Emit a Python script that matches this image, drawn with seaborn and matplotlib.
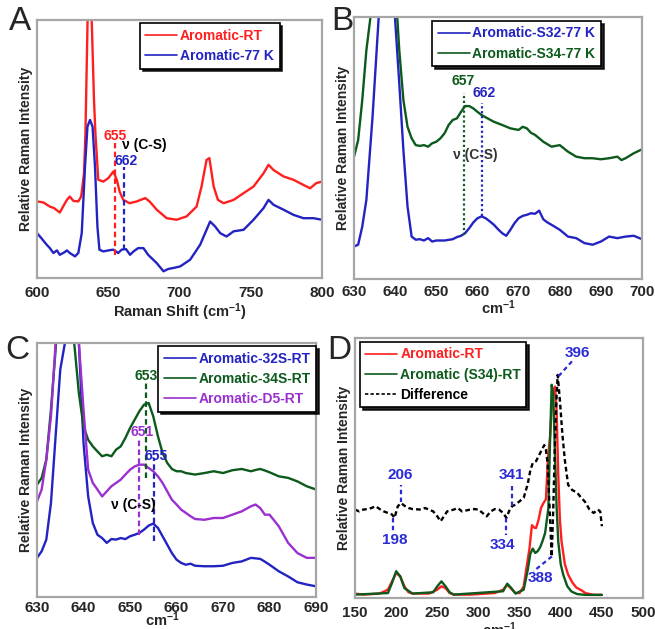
import matplotlib
matplotlib.use("Agg")
import matplotlib.pyplot as plt
import seaborn as sns

# ---------------- data (relative units 0-100 of panel height) ----------------
# Panel A
a_rt_x = [600, 604.5, 609, 612, 616, 619, 621, 623, 625.5, 629, 631, 633, 634, 635.5, 636.5, 637.5,
          638.4, 640, 641, 643, 646.6, 650, 653.6, 656, 658, 660.6, 665, 670, 676, 679, 684, 691, 698,
          705, 712, 715.5, 719, 721, 724, 727, 731, 738, 745, 752, 759, 762.5, 766, 773, 780, 787,
          791.7, 796, 800]
a_rt_y = [29.7, 29.3, 27.7, 27.1, 25.4, 28.4, 30.3, 31.6, 29.9, 29.7, 31.6, 40.6, 56.1, 100, 140, 140,
          100, 69, 56.1, 38.1, 37.4, 38.7, 41.3, 38.1, 33.5, 30.3, 29.0, 29.7, 31.0, 29.7, 26.5, 23.2, 22.6,
          23.9, 27.7, 35.5, 45.8, 46.5, 35.5, 30.3, 29.0, 30.3, 32.9, 35.5, 40.6, 43.9, 41.9, 39.4, 38.1, 36.1,
          34.8, 36.8, 37.4]
a_77_x = [600, 603, 606.8, 609, 611.5, 614, 616, 619, 621, 623, 626.7, 629, 631.4, 633.7, 635.4, 637.2,
          639, 640.7, 642.4, 643.8, 646.6, 650, 653.6, 657, 659.4, 662.5, 665.3, 667.7, 671, 674.7, 678,
          684, 688.8, 692, 695.8, 700.5, 707.5, 714.5, 718, 721.5, 725, 728.6, 733, 738, 745, 752, 759,
          762.5, 766, 773, 780, 787, 794, 800]
a_77_y = [17.4, 15.5, 12.9, 11.6, 9.7, 10.7, 9.0, 9.9, 10.7, 9.7, 8.4, 9.7, 17.4, 43.2, 58.7, 61.3,
          58.7, 43.2, 20.0, 11.0, 10.3, 10.7, 11.0, 9.7, 11.0, 11.2, 9.0, 10.3, 11.6, 11.6, 9.0,
          5.8, 2.6, 3.5, 3.9, 4.5, 7.1, 12.9, 17.4, 21.9, 20.0, 17.4, 16.1, 18.1, 18.7, 22.6, 27.1,
          30.3, 28.4, 26.5, 24.5, 23.2, 23.2, 22.6]

# Panel B
b_x32 = [630, 631, 632, 633, 634.5, 636, 637, 639, 640, 641, 642, 643, 644, 645, 646, 647, 648, 649, 650,
         652, 654, 655, 656, 657, 658, 659, 660, 661, 662, 663, 664, 665, 666, 667, 668, 669, 670, 671,
         672, 673, 674, 675, 676, 677, 678, 680, 682, 684, 686, 688, 690, 692, 694, 696, 698, 700]
b_y32 = [12.4, 13.1, 20.0, 30.2, 61.9, 100, 130, 130, 98.7, 74.6, 49.2, 27.7, 16.2, 15.0, 15.2, 14.7, 15.6,
         14.3, 14.7, 14.7, 15.2, 16.0, 16.5, 17.5, 19.4, 21.6, 23.2, 23.9, 23.2, 22.0, 20.7, 19.0, 17.5,
         16.5, 18.8, 21.3, 23.2, 24.1, 24.5, 25.1, 24.9, 26.1, 22.8, 21.6, 20.7, 18.8, 16.2, 15.6, 13.7,
         13.1, 14.3, 16.2, 15.6, 16.2, 16.5, 15.2]
b_x34 = [630, 631, 632, 633, 634, 635, 639, 640.5, 641, 642, 643, 644, 645, 646, 647, 648, 649, 650, 651,
         652, 653, 654, 655, 656, 657, 658, 659, 660, 661, 662, 664, 666, 668, 670, 671, 672, 673, 674,
         676, 678, 680, 682, 684, 686, 688, 690, 692, 694, 695, 696, 698, 700]
b_y34 = [46.7, 53.0, 68.3, 87.3, 100, 130, 130, 100, 87.3, 68.3, 58.1, 53.7, 51.1, 50.8, 51.1, 50.5, 51.8,
         52.4, 53.7, 55.6, 58.8, 60.7, 61.3, 63.8, 66.0, 66.0, 65.1, 63.8, 62.6, 61.7, 60.0, 58.8, 57.5,
         56.9, 58.1, 57.5, 55.8, 55.0, 52.4, 50.5, 51.1, 48.6, 46.7, 46.1, 46.1, 45.7, 46.1, 46.7, 45.4,
         46.1, 48.0, 49.5]

# Panel C
c_x = [630, 631, 632, 633, 634, 635, 636, 637, 638, 639, 640, 641, 642, 643, 644, 645, 646, 647, 648,
       649, 650, 651, 652, 653, 654, 655, 656, 657, 658, 659, 660, 661, 662, 663, 664, 666, 668, 670,
       672, 674, 676, 677, 678, 679, 680, 682, 684, 686, 688, 690]
c_y32 = [15.4, 18.0, 22.6, 37.0, 63.3, 89.5, 100, 130, 130, 100, 60.6, 39.6, 29.1, 24.5, 23.2, 21.3,
         22.8, 22.6, 23.2, 22.8, 23.9, 24.5, 25.2, 26.5, 28.1, 28.9, 27.2, 23.9, 20.6, 17.3, 14.7, 13.4,
         12.7, 13.1, 12.3, 12.1, 12.1, 12.3, 13.4, 14.0, 15.4, 15.2, 15.0, 13.9, 12.7, 10.1, 8.1, 5.8,
         4.9, 4.2]
c_y34 = [44.2, 46.9, 54.1, 73.8, 97.4, 130, 130, 130, 100, 80.3, 67.2, 61.9, 59.3, 57.3, 55.4, 56.0,
         55.4, 58.0, 59.3, 62.6, 66.5, 69.8, 73.1, 75.7, 76.4, 71.1, 63.3, 56.7, 52.8, 50.4, 49.5, 49.5,
         48.8, 48.5, 48.2, 48.8, 49.5, 48.8, 49.9, 50.4, 49.5, 50.0, 50.4, 49.8, 49.1, 47.5, 46.9, 45.5,
         43.6, 42.3]
c_yd5 = [37.7, 42.3, 54.1, 71.1, 100, 130, 130, 130, 130, 100, 73.8, 50.1, 44.9, 42.3, 39.6, 41.6,
         43.6, 44.9, 46.2, 48.2, 50.1, 51.4, 52.1, 52.1, 50.8, 49.5, 47.5, 44.9, 41.6, 38.3, 36.4, 34.4,
         33.1, 31.8, 30.7, 30.4, 31.1, 31.1, 32.4, 33.7, 35.7, 36.4, 35.0, 32.4, 32.4, 27.8, 21.3, 17.3,
         15.4, 15.4]

# Panel D
d_rt_x = [150, 160, 180, 190, 195, 200, 205, 210, 215, 220, 240, 250, 255, 260, 265, 270, 290, 310, 320,
          330, 335, 340, 345, 350, 355, 358, 362, 365, 368, 370, 373, 376, 379, 382, 384.5, 387, 389, 391,
          393, 395, 397, 399, 401, 405, 409, 414, 419, 425, 430, 440, 450]
d_rt_y = [1.7, 1.3, 1.7, 3.2, 6.4, 9.6, 8.3, 4.5, 2.2, 1.7, 1.7, 3.2, 4.5, 3.8, 1.9, 1.3, 1.3, 1.7, 1.9,
          3.2, 5.1, 3.5, 1.9, 1.9, 4.5, 10.9, 19.0, 28.0, 27.0, 26.9, 30.0, 34.6, 36.5, 38.0, 53.8, 62.0,
          73.0, 79.0, 81.3, 72.0, 47.3, 30.0, 21.7, 13.0, 9.0, 6.0, 4.0, 3.0, 1.9, 1.2, 1.2]
d_34_x = [150, 190, 195, 200, 205, 210, 220, 245, 250, 255, 260, 265, 270, 330, 335, 340, 345, 355, 360,
          363, 366, 369, 372, 375, 378, 381, 385, 387, 389, 391, 393, 395, 397, 400, 403, 408, 413, 420,
          430, 450]
d_34_y = [1.3, 1.9, 5.8, 10.3, 8.3, 3.8, 1.7, 2.2, 4.5, 6.4, 4.5, 2.2, 1.3, 2.6, 5.5, 3.8, 1.7, 3.2, 10.9,
          17.0, 19.0, 17.3, 18.0, 19.5, 22.0, 25.0, 34.5, 60.0, 82.0, 78.0, 55.0, 35.0, 21.7, 13.0, 9.0,
          4.5, 2.5, 1.5, 1.2, 1.2]
d_diff_x = [150, 155, 160, 165, 170, 175, 180, 185, 190, 195, 198, 202, 206, 210, 215, 220, 230, 235, 240,
            245, 250, 254, 258, 262, 270, 275, 280, 290, 295, 300, 305, 310, 315, 320, 325, 330, 334, 338,
            341, 345, 350, 355, 360, 363, 366, 370, 373, 377, 380, 382, 384, 386, 389, 391, 393, 395,
            396.3, 399, 402, 405, 409, 414, 420, 425, 429.5, 435, 440, 445, 448, 450]
d_diff_y = [34.0, 33.3, 34.0, 34.2, 34.6, 35.3, 34.2, 33.3, 32.7, 32.1, 30.8, 35.3, 36.5, 35.5, 34.6, 34.2,
            34.0, 34.6, 34.0, 33.3, 31.4, 29.5, 31.4, 33.3, 34.0, 34.6, 33.3, 34.0, 34.2, 34.0, 32.7, 31.4,
            33.3, 34.2, 34.0, 32.7, 30.8, 34.0, 35.3, 35.9, 37.2, 38.5, 44.0, 49.0, 51.9, 52.6, 54.5, 57.0,
            58.8, 57.0, 52.0, 38.0, 15.9, 35.0, 60.0, 78.0, 85.8, 76.0, 63.0, 53.0, 43.5, 41.5, 40.5, 38.5,
            37.0, 34.0, 32.7, 34.0, 33.3, 27.6]

RED = "#ff1f1f"
BLUE = "#2323c2"
GREEN = "#0c5a1c"
PURPLE = "#9b30d0"
NUMBLUE = "#2b2bd6"

# ---------------- style ----------------
sns.set_theme(style="white")
plt.rcParams["font.family"] = ["Liberation Sans", "DejaVu Sans"]
plt.rcParams["font.weight"] = "bold"
plt.rcParams["mathtext.fontset"] = "custom"
plt.rcParams["mathtext.rm"] = "Liberation Sans:bold"
plt.rcParams["mathtext.bf"] = "Liberation Sans:bold"
plt.rcParams["mathtext.default"] = "rm"

fig = plt.figure(figsize=(6.55, 6.29), dpi=100)
axA = fig.add_axes([0.0565, 0.558, 0.435, 0.410])
axB = fig.add_axes([0.5405, 0.5564, 0.4397, 0.4166])
axC = fig.add_axes([0.0565, 0.0509, 0.4260, 0.4038])
axD = fig.add_axes([0.5420, 0.0493, 0.4397, 0.4134])


def style_axes(ax, xlim, ticks, xlabel, tickpad, labelpad):
    ax.set_xlim(*xlim)
    ax.set_ylim(0, 100)
    ax.set_xticks(ticks)
    ax.set_yticks([])
    ax.tick_params(axis="x", length=0, labelsize=11, pad=tickpad)
    for lab in ax.get_xticklabels():
        lab.set_fontweight("bold")
    for sp in ax.spines.values():
        sp.set_color("#a6a6a6")
        sp.set_linewidth(1.6)
    ax.set_xlabel(xlabel, fontsize=10.5, fontweight="bold", labelpad=labelpad)
    ax.set_ylabel("Relative Raman Intensity", fontsize=10, fontweight="bold", labelpad=3)


def add_legend(ax, loc, anchor):
    leg = ax.legend(loc=loc, bbox_to_anchor=anchor, borderaxespad=0, fontsize=10,
                    prop={"weight": "bold", "size": 10}, labelcolor="linecolor",
                    handlelength=2.3, handletextpad=0.2, borderpad=0.4, labelspacing=0.45,
                    fancybox=False, frameon=True, shadow={"color": "black", "alpha": 0.85})
    leg.get_frame().set_edgecolor("black")
    leg.get_frame().set_linewidth(1.2)
    for ln in leg.get_lines():
        ln.set_linewidth(1.2)
    return leg


LW = 1.7

# ---------------- A ----------------
sns.lineplot(x=a_rt_x, y=a_rt_y, color=RED, lw=LW, label="Aromatic-RT", ax=axA, sort=False)
sns.lineplot(x=a_77_x, y=a_77_y, color=BLUE, lw=LW, label="Aromatic-77 K", ax=axA, sort=False)
style_axes(axA, (600, 800), range(600, 801, 50), r"Raman Shift (cm$^{-1}$)", 5.5, 1)
add_legend(axA, "upper left", (0.361, 0.988))
axA.plot([655, 655], [9, 52.3], ls=(0, (2.5, 1.5)), color=RED, lw=1.6)
axA.plot([661.2, 661.2], [11, 43.2], ls=(0, (2.5, 1.5)), color=BLUE, lw=1.6)
axA.text(655, 55.1, "655", color=RED, fontsize=10, fontweight="bold", ha="center", va="center")
axA.text(662.5, 45.5, "662", color=BLUE, fontsize=10, fontweight="bold", ha="center", va="center")
axA.text(659.5, 51.4, "ν (C-S)", color="black", fontsize=10, fontweight="bold", ha="left", va="center")

# ---------------- B ----------------
sns.lineplot(x=b_x32, y=b_y32, color=BLUE, lw=LW, label="Aromatic-S32-77 K", ax=axB, sort=False)
sns.lineplot(x=b_x34, y=b_y34, color=GREEN, lw=LW, label="Aromatic-S34-77 K", ax=axB, sort=False)
style_axes(axB, (630, 700), range(630, 701, 10), r"cm$^{-1}$", 4, 0)
add_legend(axB, "upper left", (0.271, 0.985))
axB.plot([656.8, 656.8], [16.9, 70.8], ls=(0, (1, 1.2)), color=GREEN, lw=1.6)
axB.plot([661.2, 661.2], [24, 67], ls=(0, (1, 1.2)), color=BLUE, lw=1.6)
axB.text(656.6, 75.6, "657", color=GREEN, fontsize=10, fontweight="bold", ha="center", va="center")
axB.text(661.6, 70.8, "662", color=BLUE, fontsize=10, fontweight="bold", ha="center", va="center")
axB.text(659.4, 47.3, "ν (C-S)", color="#333333", fontsize=10, fontweight="bold", ha="center",
         va="center")

# ---------------- C ----------------
sns.lineplot(x=c_x, y=c_y32, color=BLUE, lw=LW, label="Aromatic-32S-RT", ax=axC, sort=False)
sns.lineplot(x=c_x, y=c_y34, color=GREEN, lw=LW, label="Aromatic-34S-RT", ax=axC, sort=False)
sns.lineplot(x=c_x, y=c_yd5, color=PURPLE, lw=LW, label="Aromatic-D5-RT", ax=axC, sort=False)
style_axes(axC, (630, 690), range(630, 691, 10), r"cm$^{-1}$", 3, -3.5)
axC.xaxis.label.set_x(0.448)
add_legend(axC, "upper right", (1.0, 0.988))
axC.plot([653.4, 653.4], [46.9, 84.9], ls=(0, (2.5, 1.5)), color=GREEN, lw=1.6)
axC.plot([652.0, 652.0], [24.5, 62.6], ls=(0, (2.5, 1.5)), color=PURPLE, lw=1.6)
axC.plot([655.1, 655.1], [21.9, 54.7], ls=(0, (2.5, 1.5)), color=BLUE, lw=1.6)
axC.text(653.4, 86.9, "653", color=GREEN, fontsize=10, fontweight="bold", ha="center", va="center")
axC.text(652.5, 64.8, "651", color=PURPLE, fontsize=10, fontweight="bold", ha="center", va="center")
axC.text(655.7, 55.4, "655", color=BLUE, fontsize=10, fontweight="bold", ha="center", va="center")
axC.text(650.7, 36.4, "ν (C-S)", color="black", fontsize=10, fontweight="bold", ha="center",
         va="center")

# ---------------- D ----------------
sns.lineplot(x=d_rt_x, y=d_rt_y, color=RED, lw=LW, label="Aromatic-RT", ax=axD, sort=False)
sns.lineplot(x=d_34_x, y=d_34_y, color=GREEN, lw=LW, label="Aromatic (S34)-RT", ax=axD, sort=False)
sns.lineplot(x=d_diff_x, y=d_diff_y, color="black", lw=LW, ls=(0, (2, 1.3)), label="Difference",
             ax=axD, sort=False)
style_axes(axD, (150, 500), range(150, 501, 50), r"cm$^{-1}$", 6, 0)
add_legend(axD, "upper left", (0.017, 0.985))

d_marks = [  # (x0, y0, x1, y1, label x, label y, label)
    (397.4, 85.3, 415.6, 91.7, 419.7, 94.2, "396"),
    (206, 36.8, 206, 43.6, 204.7, 47.2, "206"),
    (196.6, 30.8, 196.6, 25.6, 197.9, 22.2, "198"),
    (341, 35.3, 341, 43.6, 340.6, 47.2, "341"),
    (333.3, 30.8, 333.3, 24.4, 329.2, 20.5, "334"),
    (389.3, 16.0, 367, 10.3, 375, 7.7, "388"),
]
for x0, y0, x1, y1, tx, ty, t in d_marks:
    axD.plot([x0, x1], [y0, y1], ls=(0, (2, 1.5)), color=NUMBLUE, lw=1.6)
    axD.text(tx, ty, t, color=NUMBLUE, fontsize=11, fontweight="bold", ha="center", va="center")

# ---------------- panel letters ----------------
for x, y, s in [(0.014, 0.990, "A"), (0.505, 0.990, "B"), (0.008, 0.468, "C"), (0.499, 0.468, "D")]:
    fig.text(x, y, s, fontsize=24, fontweight="normal", ha="left", va="top")

fig.savefig("out.png", dpi=100)
